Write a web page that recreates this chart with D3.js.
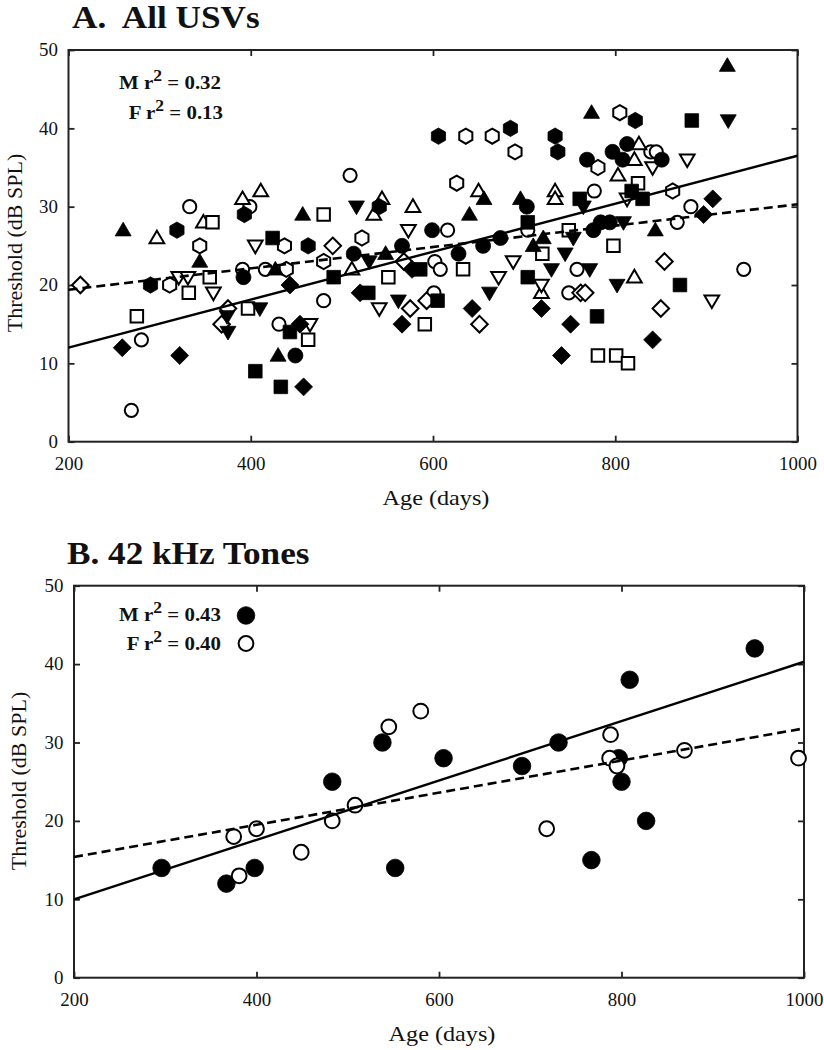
<!DOCTYPE html>
<html><head><meta charset="utf-8">
<script src="https://cdn.jsdelivr.net/npm/d3@7"></script>
<style>body{margin:0;background:#fff}svg{display:block}text{font-family:"Liberation Serif","Times New Roman",serif;fill:#111}</style>
</head><body>
<svg id="chart" width="824" height="1050"></svg>
<script>
// ---------- data ----------
const xTicks = [200, 400, 600, 800, 1000];
const yTicks = [0, 10, 20, 30, 40, 50];

// Panel A: all USVs (filled = male, open = female), [age, threshold]
const mCircleA = [[392,21],[449,11],[513,24],[566,25],[599,27],[628,24],[655,25],[674,26],[703,30],[769,36],[776,27],[784,28],[794,28],[797,37],[808,36],[813,38],[851,36]];
const fCircleA = [[269,4],[280,13],[333,30],[391,22],[399,30],[416,22],[431,15],[480,18],[509,34],[602,23],[608,22],[601,19],[616,27],[704,27],[749,19],[758,22],[777,32],[839,37],[845,37],[868,28],[883,30],[941,22]];
const mHexA = [[290,20],[319,27],[393,29],[463,25],[541,30],[606,39],[685,40],[734,39],[737,37],[822,41]];
const fHexA = [[311,20],[344,25],[437,25],[439,22],[480,23],[522,26],[626,33],[636,39],[665,39],[690,37],[781,35],[805,42],[863,32]];
const mTriUpA = [[260,27],[344,23],[427,22],[430,11],[457,29],[548,24],[640,29],[656,31],[696,31],[710,25],[721,26],[774,42],[844,27],[923,48]];
const fTriUpA = [[297,26],[348,28],[391,31],[411,32],[511,22],[535,29],[544,31],[578,30],[650,32],[719,19],[734,32],[734,31],[803,34],[821,36],[826,38],[821,21]];
const mTriDownA = [[374,16],[375,14],[410,17],[516,30],[530,23],[562,18],[662,19],[730,22],[745,24],[754,26],[765,30],[772,22],[802,20],[809,28],[924,41]];
const fTriDownA = [[321,21],[331,21],[359,19],[405,25],[465,15],[541,17],[573,27],[672,21],[688,23],[719,20],[813,31],[841,35],[879,36],[906,18]];
const mSquareA = [[405,9],[424,26],[433,7],[443,14],[491,21],[529,19],[586,22],[605,18],[704,28],[704,21],[761,31],[780,16],[818,32],[830,31],[871,20],[884,41]];
const fSquareA = [[275,16],[332,19],[355,21],[358,28],[397,17],[463,13],[480,29],[551,21],[591,15],[633,22],[720,24],[749,27],[781,11],[798,25],[801,11],[814,10],[825,33]];
const mDiamondA = [[259,12],[322,11],[443,20],[454,15],[458,7],[520,19],[566,15],[577,22],[643,17],[719,17],[741,11],[751,15],[841,13],[897,29],[907,31]];
const fDiamondA = [[213,20],[368,15],[375,17],[490,25],[568,23],[575,17],[593,18],[651,15],[762,19],[767,19],[854,23],[850,17]];

// Panel B: 42 kHz tones
const mCircleB = [[296,14],[367,12],[398,14],[483,25],[538,30],[552,14],[605,28],[691,27],[731,30],[767,15],[797,28],[800,25],[809,38],[827,20],[946,42]];
const fCircleB = [[375,18],[381,13],[400,19],[449,16],[483,20],[508,22],[545,32],[580,34],[718,19],[788,31],[787,28],[795,27],[869,29],[994,28]];

// regression lines (endpoints)
const fitA_M = [[200,12.0],[1000,36.5]];
const fitA_F = [[200,19.4],[1000,30.3]];
const fitB_M = [[200,10.0],[1000,40.3]];
const fitB_F = [[200,15.4],[1000,31.8]];

const statsA = [["M", "0.32"], ["F", "0.13"]];
const statsB = [["M", "0.43"], ["F", "0.40"]];

// ---------- drawing ----------
const svg = d3.select("#chart");
const SX = 1.1; // horizontal stretch of text seen in the reference

function shapePath(type, r) {
  const p = d3.path();
  if (type === "circle") { p.arc(0, 0, r, 0, 2 * Math.PI); }
  else if (type === "square") { const s = r * 0.92; p.rect(-s, -s, 2 * s, 2 * s); }
  else if (type === "triUp") { p.moveTo(0, -r * 1.05); p.lineTo(r * 1.05, r * 0.75); p.lineTo(-r * 1.05, r * 0.75); p.closePath(); }
  else if (type === "triDown") { p.moveTo(0, r * 1.05); p.lineTo(r * 1.05, -r * 0.75); p.lineTo(-r * 1.05, -r * 0.75); p.closePath(); }
  else if (type === "diamond") { const s = r * 1.15; p.moveTo(0, -s); p.lineTo(s, 0); p.lineTo(0, s); p.lineTo(-s, 0); p.closePath(); }
  else if (type === "hex") {
    const R = r * 1.05;
    for (let i = 0; i < 6; i++) { const a = -Math.PI / 2 + i * Math.PI / 3; const x = R * Math.cos(a), y = R * Math.sin(a); i ? p.lineTo(x, y) : p.moveTo(x, y); }
    p.closePath();
  }
  return p.toString();
}

function panel(cfg) {
  const x = d3.scaleLinear().domain([200, 1000]).range([cfg.left, cfg.right]);
  const y = d3.scaleLinear().domain([0, 50]).range([cfg.bottom, cfg.top]);
  const g = svg.append("g");
  const fmt = d3.format("d");

  // axes (ticks pointing inward)
  const tk = 6;
  const bottom = g.append("g").attr("transform", `translate(0,${cfg.bottom})`)
    .call(d3.axisBottom(x).tickValues(xTicks).tickFormat(fmt).tickSize(-tk).tickSizeOuter(0).tickPadding(16));
  const left = g.append("g").attr("transform", `translate(${cfg.left},0)`)
    .call(d3.axisLeft(y).tickValues(yTicks).tickFormat(fmt).tickSize(-tk).tickSizeOuter(0).tickPadding(10));
  g.append("g").attr("transform", `translate(0,${cfg.top})`)
    .call(d3.axisTop(x).tickValues(xTicks).tickSize(-tk).tickSizeOuter(0).tickFormat(""));
  g.append("g").attr("transform", `translate(${cfg.right},0)`)
    .call(d3.axisRight(y).tickValues(yTicks).tickSize(-tk).tickSizeOuter(0).tickFormat(""));
  g.selectAll(".domain").remove();
  g.selectAll(".tick line").attr("stroke", "#222").attr("stroke-width", 1.8);
  g.selectAll(".tick text").attr("font-size", 18).attr("font-family", "Liberation Serif, serif")
    .attr("fill", "#111").attr("transform", "scale(1.05,1)");
  left.selectAll(".tick text").attr("x", -10);

  // frame
  g.append("rect").attr("x", cfg.left).attr("y", cfg.top)
    .attr("width", cfg.right - cfg.left).attr("height", cfg.bottom - cfg.top)
    .attr("fill", "none").attr("stroke", "#222").attr("stroke-width", 2);

  // markers
  cfg.series.forEach(s => {
    g.append("g").selectAll("path").data(s.data).join("path")
      .attr("transform", d => `translate(${x(d[0])},${y(d[1])})`)
      .attr("d", shapePath(s.shape, s.r))
      .attr("fill", s.filled ? "#000" : "#fff")
      .attr("stroke", "#000")
      .attr("stroke-width", s.filled ? 0.8 : 2);
  });

  // regression lines
  const line = d3.line().x(d => x(d[0])).y(d => y(d[1]));
  g.append("path").datum(cfg.fitM).attr("d", line).attr("fill", "none")
    .attr("stroke", "#000").attr("stroke-width", 2.4);
  g.append("path").datum(cfg.fitF).attr("d", line).attr("fill", "none")
    .attr("stroke", "#000").attr("stroke-width", 2.6).attr("stroke-dasharray", "9,5");

  // titles
  svg.append("text").attr("transform", `translate(${cfg.titleX},${cfg.titleY}) scale(${SX},1)`)
    .attr("font-size", 32).attr("font-weight", "bold").attr("xml:space", "preserve")
    .style("white-space", "pre").text(cfg.title);
  svg.append("text").attr("transform", `translate(${(cfg.left + cfg.right) / 2 + 3},${cfg.xLabelY}) scale(${SX},1)`)
    .attr("text-anchor", "middle").attr("font-size", 22).text("Age (days)");
  svg.append("text").attr("transform", `translate(${cfg.yLabelX},${cfg.yLabelCY}) rotate(-90)`)
    .attr("text-anchor", "middle").attr("font-size", 22).text("Threshold (dB SPL)");

  // r^2 annotations
  cfg.stats.forEach((st, i) => {
    const t = svg.append("text")
      .attr("transform", `translate(${cfg.statX[i]},${cfg.statY[i]}) scale(${SX},1)`)
      .attr("text-anchor", "end").attr("font-size", 19).attr("font-weight", "bold");
    t.append("tspan").text(st[0] + " r");
    t.append("tspan").attr("dy", -8).attr("font-size", 16).text("2");
    t.append("tspan").attr("dy", 8).text(" = " + st[1]);
  });
  if (cfg.legendMarkers) {
    cfg.legendMarkers.forEach(lm => {
      g.append("path").attr("transform", `translate(${lm.x},${lm.y})`)
        .attr("d", shapePath("circle", lm.r)).attr("fill", lm.filled ? "#000" : "#fff")
        .attr("stroke", "#000").attr("stroke-width", lm.filled ? 0.8 : 2);
    });
  }
}

panel({
  left: 68.5, right: 797.5, top: 50, bottom: 441.7,
  title: "A.  All USVs", titleX: 72, titleY: 28,
  xLabelY: 505, yLabelX: 22, yLabelCY: 243,
  stats: statsA, statX: [221, 223], statY: [89, 119],
  fitM: fitA_M, fitF: fitA_F,
  series: [
    {data: fCircleA, shape: "circle", filled: false, r: 6.6},
    {data: fHexA, shape: "hex", filled: false, r: 7.2},
    {data: fTriUpA, shape: "triUp", filled: false, r: 7},
    {data: fTriDownA, shape: "triDown", filled: false, r: 7},
    {data: fSquareA, shape: "square", filled: false, r: 6.8},
    {data: fDiamondA, shape: "diamond", filled: false, r: 7.2},
    {data: mCircleA, shape: "circle", filled: true, r: 7.5},
    {data: mHexA, shape: "hex", filled: true, r: 7.8},
    {data: mTriUpA, shape: "triUp", filled: true, r: 7.6},
    {data: mTriDownA, shape: "triDown", filled: true, r: 7.6},
    {data: mSquareA, shape: "square", filled: true, r: 7.4},
    {data: mDiamondA, shape: "diamond", filled: true, r: 7.8}
  ]
});

panel({
  left: 74, right: 804, top: 585.7, bottom: 977.7,
  title: "B. 42 kHz Tones", titleX: 67, titleY: 564,
  xLabelY: 1041, yLabelX: 26, yLabelCY: 781,
  stats: statsB, statX: [221, 221], statY: [621, 650],
  fitM: fitB_M, fitF: fitB_F,
  legendMarkers: [{x: 246, y: 615.5, r: 8.8, filled: true}, {x: 246, y: 643.5, r: 7.4, filled: false}],
  series: [
    {data: mCircleB, shape: "circle", filled: true, r: 8.8},
    {data: fCircleB, shape: "circle", filled: false, r: 7.4}
  ]
});
</script>
</body></html>
